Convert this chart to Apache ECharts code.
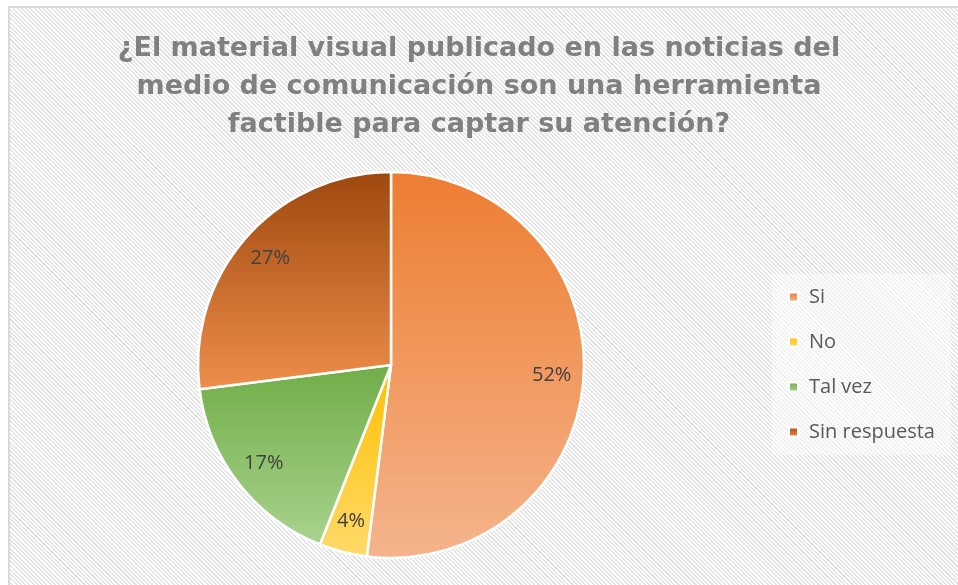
<!DOCTYPE html>
<html>
<head>
<meta charset="utf-8">
<script src="https://cdn.jsdelivr.net/npm/echarts@6/dist/echarts.min.js"></script>
<style>
  html, body { margin: 0; padding: 0; background: #fff; }
  #frame {
    position: absolute; left: 8px; top: 6px; width: 960px; height: 590px;
    border: 2px solid #d9d9d9;
    background: repeating-linear-gradient(45deg, #ffffff 0 1.5px, #e4e4e4 1.5px 3px);
  }
  #main { position: absolute; left: 0; top: 0; width: 958px; height: 585px; }
</style>
</head>
<body>
<div id="frame"></div>
<div id="main"></div>
<script>
var titleText = '¿El material visual publicado en las noticias del\nmedio de comunicación son una herramienta\nfactible para captar su atención?';
var categories = ['Si', 'No', 'Tal vez', 'Sin respuesta'];
var values = [52, 4, 17, 27];
// top -> bottom colours of each slice gradient
var topColors = ['#ED7D31', '#FFC000', '#70AD47', '#9E480E'];
var bottomColors = ['#F5B48C', '#FFDA6A', '#A9D38E', '#EF8E4B'];

var chart = echarts.init(document.getElementById('main'));

function grad(i) {
  return new echarts.graphic.LinearGradient(0, 0, 0, 1, [
    { offset: 0, color: topColors[i] },
    { offset: 1, color: bottomColors[i] }
  ]);
}

var pieData = categories.map(function (name, i) {
  return { name: name, value: values[i], itemStyle: { color: grad(i) } };
});
var labelData = categories.map(function (name, i) {
  return { name: name, value: values[i] };
});

chart.setOption({
  animation: false,
  backgroundColor: 'transparent',
  title: {
    text: titleText,
    left: 'center',
    top: 30,
    padding: [0, 0, 0, 20],
    textStyle: {
      fontFamily: 'DejaVu Sans',
      fontWeight: 'bold',
      fontSize: 27,
      lineHeight: 38,
      color: '#808080'
    }
  },
  legend: {
    orient: 'vertical',
    left: 772,
    top: 274,
    data: categories,
    icon: 'rect',
    itemWidth: 9,
    itemHeight: 9,
    itemGap: 23,
    selectedMode: false,
    backgroundColor: 'rgba(255,255,255,0.45)',
    padding: [12, 16, 12, 16],
    textStyle: {
      fontFamily: 'Open Sans',
      fontSize: 20,
      lineHeight: 22,
      color: '#595959',
      padding: [0, 0, 0, 6]
    }
  },
  series: [{
    type: 'pie',
    center: [391, 365],
    radius: [0, 193],
    startAngle: 90,
    clockwise: true,
    label: { show: false },
    labelLine: { show: false },
    emphasis: { disabled: true },
    itemStyle: { borderColor: '#ffffff', borderWidth: 2.5 },
    data: pieData
  }, {
    type: 'pie',
    center: [391, 365],
    radius: [123, 193],
    startAngle: 90,
    clockwise: true,
    silent: true,
    legendHoverLink: false,
    emphasis: { disabled: true },
    itemStyle: { color: 'rgba(0,0,0,0)', borderWidth: 0 },
    labelLine: { show: false },
    label: {
      show: true,
      position: 'inside',
      formatter: '{d}%',
      fontFamily: 'Open Sans',
      fontSize: 20,
      color: '#404040'
    },
    data: labelData
  }]
});
</script>
</body>
</html>
